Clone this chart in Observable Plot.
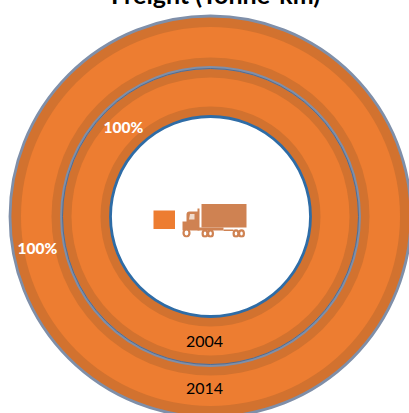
<!DOCTYPE html>
<html>
<head>
<meta charset="utf-8">
<script src="https://cdn.jsdelivr.net/npm/d3@7"></script>
<script src="https://cdn.jsdelivr.net/npm/@observablehq/plot@0.6"></script>
<style>html,body{margin:0;padding:0;background:#fff;overflow:hidden}svg{display:block}</style>
</head>
<body>
<div id="chart"></div>
<script>
const chartTitle = "Freight (Tonne-km)";
const years = ["2004", "2014"];
const shares = ["100%", "100%"];
const ringOuter = [149, 199.500];
const ringInner = [100, 149];

const W = 409, H = 413, cx = 210, cy = 216;
const band = 10;
const DARK = "#d2722f", LIGHT = "#ed7d31";

const truck = "data:image/svg+xml," + encodeURIComponent(`<svg xmlns="http://www.w3.org/2000/svg" viewBox="0 0 66 34">
<g fill="#cf8252">
<rect x="20" y="0" width="45" height="24"/>
<path d="M1 28V18H5V11Q5 8 8 8H16V5H18V27H1Z"/>
<rect x="16" y="24" width="26" height="3"/>
<rect x="42" y="26" width="10" height="1.500"/>
</g>
<path d="M8.500 10.500H13V16H7.500Z" fill="#f1dccd"/>
<g fill="#fff" stroke="#cf8252" stroke-width="2.200">
<ellipse cx="5" cy="29.500" rx="3" ry="3.500"/>
<ellipse cx="23.500" cy="30" rx="2.400" ry="3.200"/>
<ellipse cx="29" cy="30" rx="2.400" ry="3.200"/>
<ellipse cx="54.500" cy="30" rx="2.400" ry="3.200"/>
<ellipse cx="60" cy="30" rx="2.400" ry="3.200"/>
</g></svg>`);

const discs = [
  {r: ringOuter[1] + 1, fill: DARK, stroke: "#7f8fa9", sw: 2.800},
  {r: ringOuter[1] - band, fill: LIGHT},
  {r: ringOuter[0] + band, fill: DARK},
  {r: ringOuter[0], fill: DARK, stroke: "#7f8fa9", sw: 2.800},
  {r: ringOuter[0] - 1, fill: "none", stroke: "#44658f", sw: 0.800},
  {r: ringInner[1] - band, fill: LIGHT},
  {r: ringInner[0] + band, fill: DARK},
  {r: ringInner[0], fill: "#fff", stroke: "#2e6ca6", sw: 2.800}
];

const plot = Plot.plot({
  width: W, height: H,
  margin: 0,
  style: {background: "#fff", overflow: "hidden"},
  x: {domain: [-cx, W - cx], range: [0, W], axis: null},
  y: {domain: [H - cy, -cy], range: [H, 0], axis: null},
  r: {type: "linear", domain: [0, 300], range: [0, 300]},
  marks: [
    Plot.dot(discs, {
      x: () => 0, y: () => 0, r: d => d.r,
      fill: d => d.fill, stroke: d => d.stroke ?? "none", strokeWidth: d => d.sw ?? 0
    }),
    // share labels
    Plot.text(shares, {
      x: [-173, -87], y: [33, -88], text: d => d,
      fill: "#fff", fontWeight: 900, fontSize: 15.500, fontFamily: "Lato"
    }),
    // year labels
    Plot.text(years, {
      x: [-6, -6], y: [125, 172], text: d => d,
      fill: "#000", fontSize: 16, fontFamily: "Lato"
    }),
    // small square + truck icon
    Plot.rect([0], {
      x1: () => -56.5, x2: () => -35, y1: () => -5.500, y2: () => 13, fill: LIGHT
    }),
    Plot.image([0], {
      x: () => 4, y: () => 4, width: 66, height: 34, src: () => truck
    }),
    // title, cut by the top of the picture as in the reference
    Plot.text([chartTitle], {
      x: () => 5, y: () => -212.500, text: d => d,
      fontWeight: 700, fontSize: 25, fontFamily: "Lato",
      fill: "#000", lineAnchor: "bottom"
    })
  ]
});
document.getElementById("chart").append(plot);
</script>
</body>
</html>
